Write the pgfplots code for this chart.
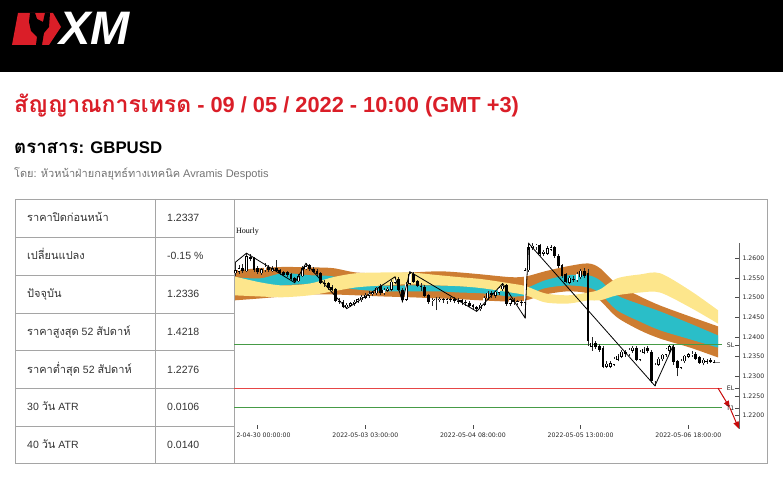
\documentclass[border=0pt]{standalone}
\usepackage{fontspec}
\setmainfont{Liberation Sans}
\newfontfamily\thaifont[Script=Thai]{Loma}
\newfontfamily\dejavu{DejaVu Sans}
\newfontfamily\libserif{Liberation Serif}
\usepackage{pgfplots}
\usepackage{pgfplotstable}
\pgfplotsset{compat=1.18}
\usepgfplotslibrary{fillbetween}
\usetikzlibrary{arrows.meta}
\newcommand{\tha}[1]{{\thaifont #1}}
\newcommand{\thb}[2]{{\thaifont\fontsize{#1}{#1}\selectfont #2}}
\definecolor{xmred}{RGB}{218,30,40}
\definecolor{txt}{RGB}{51,51,51}
\definecolor{gridc}{RGB}{165,165,165}
\definecolor{bandbrown}{RGB}{205,125,50}
\definecolor{bandcyan}{RGB}{42,190,200}
\definecolor{bandyellow}{RGB}{253,230,140}
\definecolor{slgreen}{RGB}{70,155,70}
\definecolor{elred}{RGB}{230,70,70}
\definecolor{arrowred}{RGB}{200,10,10}

\pgfplotstableread{
i o h l c
0 1.2562 1.2590 1.2555 1.2570
1 1.2566 1.2582 1.2560 1.2575
2 1.2575 1.2585 1.2562 1.2568
3 1.2568 1.2613 1.2565 1.2605
4 1.2604 1.2610 1.2592 1.2597
5 1.2600 1.2603 1.2565 1.2570
6 1.2575 1.2580 1.2560 1.2566
7 1.2562 1.2576 1.2558 1.2572
8 1.2570 1.2588 1.2566 1.2578
9 1.2577 1.2582 1.2566 1.2570
10 1.2568 1.2580 1.2564 1.2575
11 1.2575 1.2596 1.2565 1.2568
12 1.2570 1.2574 1.2558 1.2562
13 1.2564 1.2568 1.2554 1.2558
14 1.2565 1.2569 1.2552 1.2557
15 1.2560 1.2563 1.2544 1.2548
16 1.2550 1.2553 1.2538 1.2542
17 1.2542 1.2560 1.2540 1.2556
18 1.2555 1.2580 1.2552 1.2575
19 1.2572 1.2587 1.2570 1.2580
20 1.2582 1.2585 1.2568 1.2572
21 1.2574 1.2578 1.2562 1.2566
22 1.2568 1.2572 1.2556 1.2560
23 1.2562 1.2565 1.2534 1.2537
24 1.2538 1.2545 1.2528 1.2534
25 1.2536 1.2540 1.2520 1.2525
26 1.2528 1.2532 1.2516 1.2520
27 1.2522 1.2525 1.2488 1.2492
28 1.2492 1.2498 1.2484 1.2488
29 1.2490 1.2494 1.2473 1.2477
30 1.2476 1.2486 1.2472 1.2482
31 1.2480 1.2490 1.2476 1.2486
32 1.2484 1.2494 1.2480 1.2490
33 1.2490 1.2500 1.2486 1.2496
34 1.2494 1.2506 1.2490 1.2502
35 1.2500 1.2512 1.2496 1.2508
36 1.2505 1.2516 1.2500 1.2512
37 1.2510 1.2518 1.2504 1.2514
38 1.2512 1.2528 1.2508 1.2525
39 1.2530 1.2534 1.2508 1.2512
40 1.2512 1.2524 1.2508 1.2520
41 1.2518 1.2526 1.2514 1.2522
42 1.2520 1.2544 1.2516 1.2540
43 1.2538 1.2553 1.2534 1.2548
44 1.2548 1.2552 1.2516 1.2520
45 1.2520 1.2524 1.2490 1.2495
46 1.2495 1.2540 1.2492 1.2535
47 1.2535 1.2566 1.2532 1.2560
48 1.2560 1.2564 1.2536 1.2540
49 1.2542 1.2546 1.2526 1.2530
50 1.2530 1.2536 1.2518 1.2526
51 1.2528 1.2532 1.2502 1.2505
52 1.2506 1.2510 1.2485 1.2490
53 1.2492 1.2500 1.2480 1.2495
54 1.2493 1.2502 1.2468 1.2497
55 1.2493 1.2502 1.2488 1.2497
56 1.2496 1.2500 1.2486 1.2493
57 1.2492 1.2500 1.2484 1.2496
58 1.2495 1.2502 1.2490 1.2497
59 1.2497 1.2501 1.2486 1.2492
60 1.2490 1.2498 1.2484 1.2494
61 1.2493 1.2497 1.2482 1.2488
62 1.2489 1.2494 1.2480 1.2486
63 1.2487 1.2491 1.2476 1.2480
64 1.2481 1.2485 1.2470 1.2475
65 1.2476 1.2480 1.2465 1.2470
66 1.2470 1.2486 1.2466 1.2482
67 1.2482 1.2504 1.2478 1.2500
68 1.2498 1.2516 1.2494 1.2512
69 1.2512 1.2516 1.2500 1.2506
70 1.2505 1.2518 1.2500 1.2515
71 1.2513 1.2528 1.2508 1.2525
72 1.2522 1.2536 1.2518 1.2530
73 1.2532 1.2535 1.2480 1.2485
74 1.2485 1.2500 1.2480 1.2496
75 1.2495 1.2498 1.2482 1.2488
76 1.2488 1.2495 1.2482 1.2491
77 1.2490 1.2494 1.2478 1.2487
78 1.2487 1.2575 1.2449 1.2570
79 1.2570 1.2638 1.2566 1.2628
80 1.2625 1.2638 1.2620 1.2632
81 1.2628 1.2637 1.2622 1.2634
82 1.2633 1.2636 1.2606 1.2610
83 1.2612 1.2622 1.2606 1.2616
84 1.2612 1.2632 1.2608 1.2625
85 1.2622 1.2634 1.2618 1.2628
86 1.2628 1.2632 1.2602 1.2606
87 1.2606 1.2610 1.2576 1.2580
88 1.2582 1.2586 1.2550 1.2555
89 1.2560 1.2563 1.2536 1.2540
90 1.2538 1.2554 1.2534 1.2550
91 1.2548 1.2555 1.2540 1.2545
92 1.2545 1.2564 1.2540 1.2560
93 1.2552 1.2572 1.2548 1.2568
94 1.2568 1.2576 1.2550 1.2555
95 1.2562 1.2572 1.2378 1.2390
96 1.2375 1.2400 1.2365 1.2385
97 1.2385 1.2390 1.2370 1.2375
98 1.2378 1.2382 1.2362 1.2366
99 1.2372 1.2376 1.2320 1.2325
100 1.2325 1.2338 1.2320 1.2332
101 1.2325 1.2338 1.2320 1.2333
102 1.2330 1.2350 1.2326 1.2345
103 1.2342 1.2356 1.2338 1.2352
104 1.2350 1.2366 1.2346 1.2362
105 1.2362 1.2366 1.2350 1.2356
106 1.2357 1.2372 1.2352 1.2368
107 1.2365 1.2378 1.2360 1.2372
108 1.2372 1.2376 1.2338 1.2342
109 1.2342 1.2366 1.2338 1.2362
110 1.2360 1.2374 1.2356 1.2370
111 1.2372 1.2378 1.2360 1.2364
112 1.2362 1.2366 1.2282 1.2287
113 1.2287 1.2334 1.2276 1.2330
114 1.2330 1.2348 1.2326 1.2345
115 1.2343 1.2358 1.2338 1.2355
116 1.2355 1.2372 1.2350 1.2370
117 1.2365 1.2380 1.2360 1.2376
118 1.2374 1.2380 1.2330 1.2336
119 1.2338 1.2342 1.2300 1.2322
120 1.2322 1.2344 1.2318 1.2340
121 1.2338 1.2355 1.2334 1.2352
122 1.2350 1.2360 1.2346 1.2356
123 1.2355 1.2365 1.2350 1.2358
124 1.2358 1.2362 1.2342 1.2345
125 1.2348 1.2352 1.2332 1.2335
126 1.2333 1.2346 1.2328 1.2342
127 1.2340 1.2345 1.2332 1.2337
128 1.2342 1.2346 1.2334 1.2336
129 1.2337 1.2341 1.2333 1.2336
}\candles

\pgfplotstableread{
i bt bb ct cb yt yb
-0.36 1.2569 1.2493 1.2552 1.2518 1.2554 1.2506
6.65 1.2575 1.2498 1.2549 1.2518 1.2539 1.2503
12.84 1.2578 1.2503 1.2562 1.2531 1.2531 1.2501
20.11 1.2577 1.2508 1.2557 1.2534 1.2536 1.2506
26.31 1.2575 1.2508 1.2554 1.2531 1.2552 1.2516
32.5 1.2564 1.2506 1.2536 1.2521 1.2562 1.2526
39.77 1.2562 1.2503 1.2531 1.2516 1.2564 1.2531
47.04 1.2564 1.2501 1.2531 1.2516 1.2564 1.2534
54.85 1.2567 1.2498 1.2531 1.2516 1.2557 1.2531
60.5 1.2564 1.2496 1.2529 1.2513 1.2552 1.2529
66.44 1.2559 1.2493 1.2526 1.2511 1.2547 1.2524
74.25 1.2552 1.2490 1.2518 1.2503 1.2536 1.2513
78.29 1.2554 1.2493 1.2524 1.2506 1.2529 1.2506
83.4 1.2567 1.2508 1.2544 1.2524 1.2511 1.2488
89.6 1.2580 1.2516 1.2557 1.2531 1.2506 1.2485
94.99 1.2587 1.2511 1.2557 1.2526 1.2513 1.2493
98.2 1.2575 1.2493 1.2544 1.2511 1.2521 1.2493
102.8 1.2534 1.2450 1.2506 1.2468 1.2549 1.2506
109.0 1.2503 1.2417 1.2483 1.2439 1.2559 1.2513
114.4 1.2480 1.2396 1.2465 1.2417 1.2562 1.2513
122.5 1.2452 1.2373 1.2434 1.2394 1.2518 1.2475
130.0 1.2427 1.2348 1.2404 1.2373 1.2468 1.2434
}\bands

\pgfplotstableread{
i p
0 1.2590
3 1.2613
16 1.2538
19 1.2587
30 1.2472
43 1.2553
45 1.2490
47 1.2566
65 1.2465
72 1.2536
78 1.2449
79 1.2638
113 1.2276
118 1.2380
}\zigzag

\begin{document}
\begin{tikzpicture}[x=1pt,y=1pt]
\path (0,0) rectangle (783,481);
\fill[black] (0,409) rectangle (783,481);
% logo
\fill[xmred] (18,468) -- (53,468) -- (61,454) -- (49,436) -- (12,436) -- cycle;
\fill[black] (30,468) -- (35,468) -- (37,462) -- (43,459) -- (45,468) -- (50,468) -- (49,454) -- (44,448) -- (42,436) -- (36,436) -- (37,444) -- (31,450) -- (29,459) -- cycle;
\node[anchor=base west, inner sep=0, text=white, font=\fontsize{47}{47}\selectfont\bfseries\itshape] at (59,436) {XM};
% titles
\node[anchor=base west, inner sep=0, text=xmred, font=\fontsize{21.8}{24}\selectfont\bfseries] at (14,368) {\thb{23}{สัญญาณการเทรด} - 09 / 05 / 2022 - 10:00 (GMT +3)};
\node[anchor=base west, inner sep=0, text=black, font=\fontsize{16.8}{20}\selectfont\bfseries] at (14,327.1) {\thb{18.6}{ตราสาร}: GBPUSD};
\node[anchor=base west, inner sep=0, text=black!55, font=\fontsize{11}{13}\selectfont] at (14,303) {\tha{โดย}: \tha{หัวหน้าฝ่ายกลยุทธ์ทางเทคนิค} Avramis Despotis};
% table frame
\draw[gridc, line width=0.8pt] (15,282) rectangle (767,17.3);
\foreach \yy in {243.7,205.7,168,130.3,92.7,55} {\draw[gridc, line width=0.8pt] (15,\yy) -- (234,\yy);}
\draw[gridc, line width=0.8pt] (155.7,282) -- (155.7,17.3);
\draw[gridc, line width=0.8pt] (234,282) -- (234,17.3);
\begin{scope}[every node/.style={anchor=base west, inner sep=0, text=txt, font=\fontsize{10.5}{12}\selectfont}]
\node at (27,259) {\thb{11}{ราคาปิดก่อนหน้า}};
\node at (167,259) {1.2337};
\node at (27,221) {\thb{11}{เปลี่ยนแปลง}};
\node at (167,221) {-0.15 \%};
\node at (27,183) {\thb{11}{ปัจจุบัน}};
\node at (167,183) {1.2336};
\node at (27,145) {\thb{11}{ราคาสูงสุด} 52 \thb{11}{สัปดาห์}};
\node at (167,145) {1.4218};
\node at (27,107.5) {\thb{11}{ราคาต่ำสุด} 52 \thb{11}{สัปดาห์}};
\node at (167,107.5) {1.2276};
\node at (27,70) {30 \thb{11}{วัน} ATR};
\node at (167,70) {0.0106};
\node at (27,32) {40 \thb{11}{วัน} ATR};
\node at (167,32) {0.0140};
\end{scope}
\node[anchor=base west, inner sep=0, font=\libserif\fontsize{8}{9}\selectfont] at (236,247) {Hourly};
% chart
\begin{axis}[
  at={(234pt,52pt)}, anchor=south west, scale only axis,
  width=505pt, height=186pt,
  xmin=-0.36, xmax=135.65, ymin=1.21662, ymax=1.26389,
  axis x line*=bottom, axis y line*=right,
  x axis line style={draw=none},
  y axis line style={black!60, line width=0.6pt},
  tick align=inside, major tick length=4pt,
  major tick style={black!70, line width=0.5pt},
  xtick={6,35,64,93,122},
  xticklabels={\hphantom{202}2-04-30 00:00:00,2022-05-03 03:00:00,2022-05-04 08:00:00,2022-05-05 13:00:00,2022-05-06 18:00:00},
  ytick={1.22,1.225,1.23,1.235,1.24,1.245,1.25,1.255,1.26},
  scaled y ticks=false,
  yticklabel style={/pgf/number format/.cd, fixed, fixed zerofill, precision=4, assume math mode=true},
  ticklabel style={font=\dejavu\fontsize{6.2}{7}\selectfont, text=black!85},
  extra y ticks={1.2380,1.2270,1.2220}, extra y tick labels={,,},
  minor tick num=0,
]
\addplot[name path=bt, draw=none, smooth] table[x=i,y=bt]{\bands};
\addplot[name path=bb, draw=none, smooth] table[x=i,y=bb]{\bands};
\addplot[fill=bandbrown, draw=none] fill between[of=bt and bb];
\addplot[name path=ct, draw=none, smooth] table[x=i,y=ct]{\bands};
\addplot[name path=cb, draw=none, smooth] table[x=i,y=cb]{\bands};
\addplot[fill=bandcyan, draw=none] fill between[of=ct and cb];
\addplot[name path=yt, draw=none, smooth] table[x=i,y=yt]{\bands};
\addplot[name path=yb, draw=none, smooth] table[x=i,y=yb]{\bands};
\addplot[fill=bandyellow, draw=none] fill between[of=yt and yb];
\addplot[slgreen, line width=1.2pt] coordinates {(-0.36,1.2380) (131,1.2380)};
\addplot[elred, line width=1.2pt] coordinates {(-0.36,1.2270) (131,1.2270)};
\addplot[slgreen, line width=1.2pt] coordinates {(-0.36,1.2220) (131,1.2220)};
\addplot[black!85, line width=0.55pt, quiver={u=0, v=\thisrow{h}-\thisrow{l}}]
  table[x=i, y=l]{\candles};
\addplot[black, line width=2.8pt, quiver={u=0, v=\thisrow{c}-\thisrow{o}}]
  table[x=i, y=o]{\candles};
\addplot[white, line width=1.3pt, quiver={u=0, v=\thisrow{c}-\thisrow{o}-0.0002}]
  table[x=i, y expr={\thisrow{c}>\thisrow{o}+0.00025 ? \thisrow{o}+0.0001 : nan}]{\candles};
\addplot[black!50, line width=0.6pt] coordinates {(129.3,1.2336) (130.6,1.2336)};
\addplot[black, line width=0.8pt] table[x=i,y=p]{\zigzag};
\addplot[arrowred, line width=1pt, -{Triangle[length=7pt,width=5.5pt]}] coordinates {(130,1.2270) (133.2,1.2220)};
\addplot[arrowred, line width=1pt, -{Triangle[length=7pt,width=5.5pt]}] coordinates {(133.2,1.2220) (135.6,1.2167)};
\draw[black!60, line width=0.6pt] (rel axis cs:1,0) -- (rel axis cs:1,1);
\node[anchor=east, inner sep=0, font=\dejavu\fontsize{6.2}{7}\selectfont, text=black!85] at (axis cs:135.65,1.2380) [xshift=-4.6pt] {SL};
\node[anchor=east, inner sep=0, font=\dejavu\fontsize{6.2}{7}\selectfont, text=black!85] at (axis cs:135.65,1.2270) [xshift=-4.6pt] {EL};
\node[anchor=east, inner sep=0, font=\dejavu\fontsize{6.2}{7}\selectfont, text=black!85] at (axis cs:135.65,1.2220) [xshift=-4.6pt] {T1};
\end{axis}
\end{tikzpicture}
\end{document}
